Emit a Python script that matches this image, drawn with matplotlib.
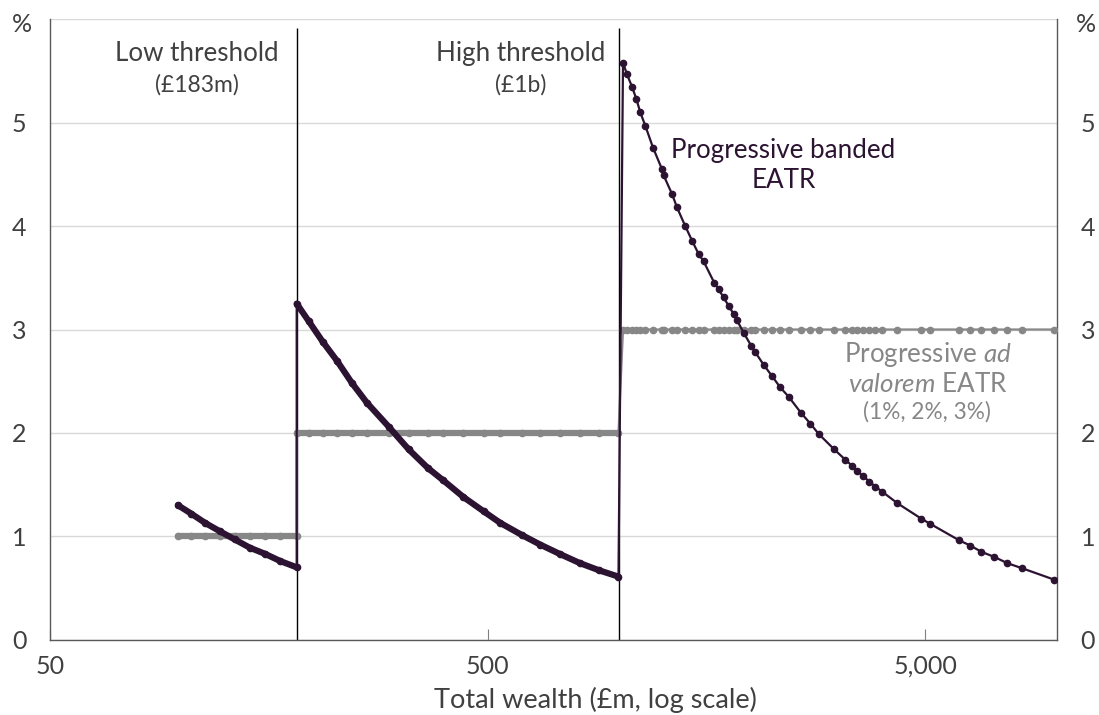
import matplotlib
matplotlib.use("Agg")
import matplotlib.pyplot as plt
from matplotlib.ticker import NullLocator

plt.rcParams['font.family'] = 'Lato'
plt.rcParams['mathtext.fontset'] = 'custom'
plt.rcParams['mathtext.rm'] = 'Lato'
plt.rcParams['mathtext.it'] = 'Lato:italic'

PURPLE = '#2b1331'
GREY = '#878787'
TEXT = '#404040'

thresholds = [183, 1000]
ad_valorem_rates = [1, 2, 3]

# wealth of each individual (£m), split by band
wealth_low = [98, 105, 113, 122, 132, 143, 155, 168, 183]
wealth_mid = [183, 195, 210, 226, 245, 265, 297, 330, 365, 396, 440, 490,
              534, 600, 659, 730, 813, 900, 995]
wealth_high = [1019, 1040, 1068, 1093, 1116, 1146, 1193, 1251, 1262, 1319,
               1354, 1414, 1465, 1517, 1557, 1648, 1685, 1730, 1776, 1824,
               1856, 1922, 2002, 2044, 2135, 2232, 2331, 2436, 2604, 2731,
               2853, 3098, 3283, 3406, 3497, 3609, 3725, 3845, 3990, 4317,
               4898, 5135, 5983, 6340, 6718, 7194, 7702, 8337, 9865]

# effective average tax rate under the banded schedule (%)
banded_low = [1.30, 1.22, 1.13, 1.05, 0.97, 0.89, 0.83, 0.76, 0.70]
banded_mid = [3.25, 3.08, 2.88, 2.70, 2.48, 2.29, 2.06, 1.84, 1.66, 1.54,
              1.38, 1.24, 1.13, 1.01, 0.92, 0.83, 0.74, 0.67, 0.61]
banded_high = [5.58, 5.47, 5.35, 5.23, 5.10, 4.97, 4.76, 4.55, 4.49, 4.31,
               4.18, 4.00, 3.86, 3.73, 3.66, 3.45, 3.39, 3.31, 3.23, 3.15,
               3.09, 2.97, 2.84, 2.78, 2.66, 2.55, 2.44, 2.35, 2.19, 2.09,
               1.99, 1.84, 1.74, 1.68, 1.63, 1.58, 1.53, 1.48, 1.43, 1.32,
               1.17, 1.12, 0.96, 0.91, 0.85, 0.80, 0.74, 0.69, 0.58]

adval_low = [ad_valorem_rates[0]] * len(wealth_low)
adval_mid = [ad_valorem_rates[1]] * len(wealth_mid)
adval_high = [ad_valorem_rates[2]] * len(wealth_high)

wealth = wealth_low + wealth_mid + wealth_high
banded = banded_low + banded_mid + banded_high
adval = adval_low + adval_mid + adval_high

fig = plt.figure(figsize=(10.99, 7.15), dpi=100)
ax = fig.add_axes([0.0456, 0.1053, 0.9162, 0.8677])
ax.set_xscale('log')
ax.set_xlim(50, 10000)
ax.set_ylim(0, 6)

# threshold markers
ax.vlines(thresholds, 0, 5.92, color='black', lw=1, zorder=2)

# ad valorem series (dense individuals in the lower bands look like a solid bar)
ax.plot(wealth, adval, color=GREY, lw=1.6, marker='o', ms=4.5, zorder=3)
ax.plot(wealth_low, adval_low, color=GREY, lw=4.5, solid_capstyle='round', zorder=3)
ax.plot(wealth_mid, adval_mid, color=GREY, lw=4.5, solid_capstyle='round', zorder=3)

# banded series
ax.plot(wealth, banded, color=PURPLE, lw=1.6, marker='o', ms=4.5, zorder=4)
ax.plot(wealth_low, banded_low, color=PURPLE, lw=4.5, solid_capstyle='round', zorder=4)
ax.plot(wealth_mid, banded_mid, color=PURPLE, lw=4.5, solid_capstyle='round', zorder=4)

# axes styling
for side in ['left', 'right', 'bottom']:
    ax.spines[side].set_color('#595959')
    ax.spines[side].set_linewidth(1)
ax.spines['top'].set_visible(False)

ax.set_yticks(range(7))
ax.set_yticklabels(['0', '1', '2', '3', '4', '5', ''])
ax.tick_params(axis='y', length=0, pad=17, labelsize=18, labelcolor=TEXT,
               labelleft=True, labelright=True)
ax.grid(axis='y', color='#d9d9d9', lw=1)
ax.set_axisbelow(True)

ax.set_xticks([50, 500, 5000])
ax.set_xticklabels(['50', '500', '5,000'])
ax.xaxis.set_minor_locator(NullLocator())
ax.tick_params(axis='x', direction='in', length=8, color='#808080',
               pad=11, labelsize=18, labelcolor=TEXT)

fig.text(595 / 1099, 1 - 700 / 715, 'Total wealth (£m, log scale)',
         ha='center', va='center', fontsize=19.5, color=TEXT)

fig.text(12 / 1099, 1 - 24 / 715, '%', ha='left', va='center', fontsize=18, color=TEXT)
fig.text(1076 / 1099, 1 - 24 / 715, '%', ha='left', va='center', fontsize=18, color=TEXT)

# annotations
ax.text(108, 5.67, 'Low threshold', ha='center', va='center', fontsize=18.7, color=TEXT)
ax.text(108, 5.37, '(£183m)', ha='center', va='center', fontsize=16.5, color=TEXT)
ax.text(596, 5.67, 'High threshold', ha='center', va='center', fontsize=18.7, color=TEXT)
ax.text(596, 5.37, '(£1b)', ha='center', va='center', fontsize=16.5, color=TEXT)

ax.text(2369, 4.73, 'Progressive banded', ha='center', va='center', fontsize=18.7, color=PURPLE)
ax.text(2369, 4.44, 'EATR', ha='center', va='center', fontsize=18.7, color=PURPLE)

ax.text(5056, 2.76, r'Progressive $\mathit{ad}$', ha='center', va='center', fontsize=18.7, color=GREY)
ax.text(5056, 2.47, r'$\mathit{valorem}$ EATR', ha='center', va='center', fontsize=18.7, color=GREY)
ax.text(5056, 2.20, '(1%, 2%, 3%)', ha='center', va='center', fontsize=16.3, color=GREY)

fig.savefig('out.png', dpi=100)
